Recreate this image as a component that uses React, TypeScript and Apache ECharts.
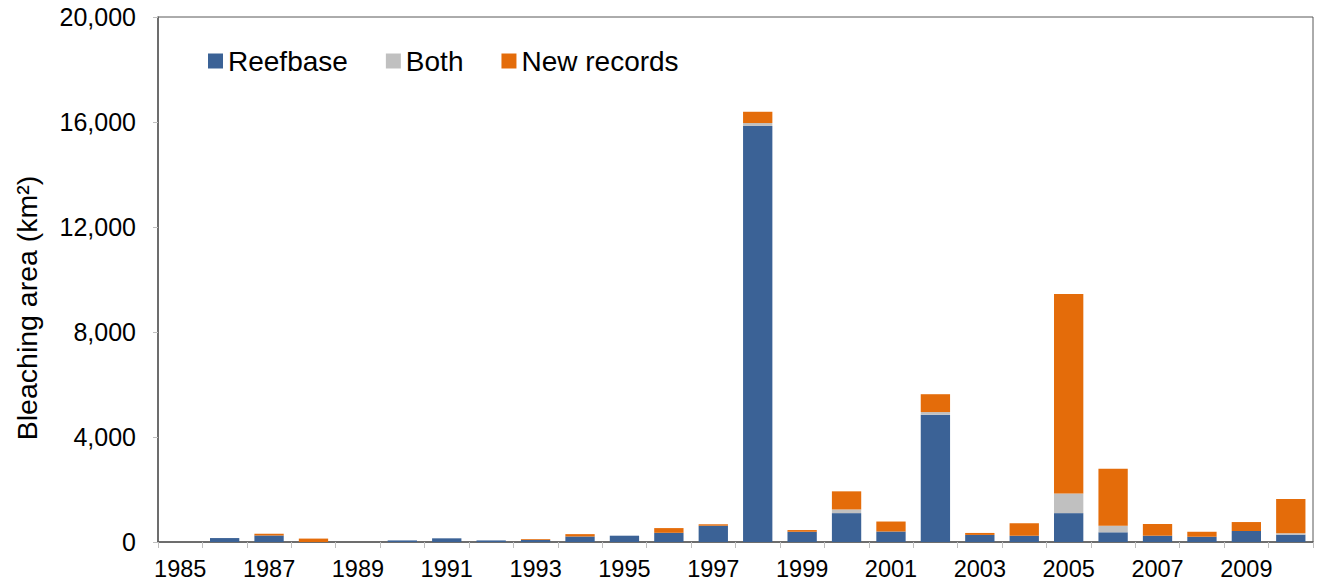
import React, { useEffect, useRef } from "react";
import * as echarts from "echarts";

const years = [
  "1985", "1986", "1987", "1988", "1989", "1990", "1991", "1992", "1993",
  "1994", "1995", "1996", "1997", "1998", "1999", "2000", "2001", "2002",
  "2003", "2004", "2005", "2006", "2007", "2008", "2009", "2010",
];
const reefbase = [0, 150, 250, 0, 0, 60, 140, 60, 80, 210, 240, 350, 620, 15850, 390, 1100, 400, 4850, 270, 240, 1100, 370, 240, 200, 420, 280];
const both = [0, 0, 0, 0, 0, 0, 0, 0, 0, 0, 0, 0, 0, 110, 0, 140, 0, 100, 0, 0, 750, 250, 0, 0, 0, 50];
const newRecords = [0, 0, 60, 130, 0, 0, 0, 0, 30, 90, 0, 180, 55, 430, 65, 690, 380, 680, 75, 470, 7600, 2170, 445, 190, 340, 1310];
const yTicks = { min: 0, max: 20000, interval: 4000 };
const yTitle = "Bleaching area (km²)";

const FONT = "'Liberation Sans', Arial, sans-serif";

export default function App() {
  const ref = useRef<HTMLDivElement>(null);
  useEffect(() => {
    if (!ref.current) return;
    const chart = echarts.init(ref.current, null, { renderer: "svg" });
    const mk = (name: string, data: number[], color: string) => ({
      name,
      type: "bar",
      stack: "total",
      data,
      barWidth: "66%",
      itemStyle: { color },
    });
    chart.setOption({
      animation: false,
      backgroundColor: "#ffffff",
      textStyle: { fontFamily: FONT },
      grid: {
        left: 158,
        right: 8,
        top: 17,
        bottom: 46,
        show: true,
        borderColor: "#595959",
        borderWidth: 1,
        backgroundColor: "transparent",
      },
      legend: {
        left: 203,
        top: 42,
        itemWidth: 15,
        itemHeight: 15,
        itemGap: 38,
        icon: "rect",
        textStyle: { fontSize: 28, color: "#000", fontFamily: FONT },
        data: ["Reefbase", "Both", "New records"],
      },
      graphic: [
        {
          type: "text",
          x: 27,
          y: 308,
          rotation: Math.PI / 2,
          style: {
            text: yTitle,
            fontSize: 28.5,
            fontFamily: FONT,
            fill: "#000",
            align: "center",
            verticalAlign: "middle",
          },
        },
      ],
      xAxis: {
        type: "category",
        data: years,
        axisLine: { lineStyle: { color: "#595959", width: 1.5 } },
        axisTick: {
          show: true,
          interval: 0,
          alignWithLabel: false,
          length: 6,
          lineStyle: { color: "#bfbfbf" },
        },
        axisLabel: {
          interval: 1,
          fontSize: 23.5,
          color: "#000",
          margin: 15,
          fontFamily: FONT,
        },
      },
      yAxis: {
        type: "value",
        min: yTicks.min,
        max: yTicks.max,
        interval: yTicks.interval,
        axisLine: { show: true, lineStyle: { color: "#595959", width: 1.5 } },
        axisTick: { show: true, length: 5, lineStyle: { color: "#bfbfbf" } },
        splitLine: { show: false },
        axisLabel: {
          fontSize: 25,
          color: "#000",
          margin: 22,
          fontFamily: FONT,
          formatter: (v: number) => v.toLocaleString("en-US"),
        },
      },
      series: [
        mk("Reefbase", reefbase, "#3b6296"),
        mk("Both", both, "#c0c0c0"),
        mk("New records", newRecords, "#e46c0a"),
      ],
    });
    return () => chart.dispose();
  }, []);
  return (
    <div
      ref={ref}
      style={{ position: "fixed", left: 0, top: 0, width: 1321, height: 588 }}
    />
  );
}
